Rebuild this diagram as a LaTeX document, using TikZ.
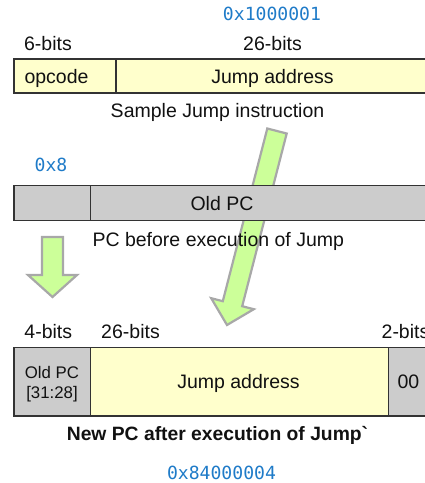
\documentclass[tikz,border=0pt]{standalone}
\usepackage{fontspec}
\setmainfont{Liberation Sans}
% plain family without TeX quote ligatures, so the grave accent stays as typed
\newfontfamily\rawsans{Liberation Sans}
\newfontfamily\hexfont{DejaVu Sans Mono}
\definecolor{cellyellow}{HTML}{FFFFCC}
\definecolor{cellgray}{HTML}{CCCCCC}
\definecolor{arrowgreen}{HTML}{CCFF99}
\definecolor{arrowedge}{HTML}{A8A8A8}
\definecolor{hexblue}{HTML}{1F7BC8}
\definecolor{frame}{HTML}{333333}
\definecolor{ink}{HTML}{111111}
\begin{document}
\begin{tikzpicture}[x=1pt,y=-1pt,
  cell/.style={draw=frame,line width=1.3pt,rectangle,inner sep=0pt,outer sep=0pt},
  lbl/.style={anchor=base,inner sep=0pt,text=ink,font=\fontsize{19.5}{22}\selectfont},
  small/.style={anchor=base,inner sep=0pt,text=ink,font=\fontsize{16.8}{20}\selectfont},
  hex/.style={anchor=base,inner sep=0pt,text=hexblue,font=\hexfont\fontsize{18.1}{22}\selectfont},
  bigarrow/.style={fill=arrowgreen,draw=arrowedge,line width=2.2pt,line join=miter}]
\useasboundingbox (0,0) rectangle (425,483);
\clip (0,0) rectangle (425,483);

% jump target arrow, lying behind the PC register
\draw[bigarrow] (267.3,128.5) -- (286.7,133.5) -- (242.2,306.2) -- (253.8,309.2)
  -- (227,325) -- (211.2,298.2) -- (222.8,301.2) -- cycle;

% sample jump instruction
\node[hex] (hexjump) at (272,20) {0x1000001};
\node[lbl] (b6) at (48,50) {6-bits};
\node[lbl] (b26a) at (272.5,50) {26-bits};
\node[cell,fill=cellyellow,minimum width=102pt,minimum height=34pt] (opc) at (65,76) {};
\node[cell,fill=cellyellow,minimum width=312pt,minimum height=34pt] (jaddr) at (272,76) {};
\node[lbl] (opct) at (56.5,83) {opcode};
\node[lbl] (jaddrt) at (272.5,83) {Jump address};
\node[lbl] (cap1) at (217.5,117) {Sample Jump instruction};

% PC before the jump
\node[hex] (hexpc) at (51,171.5) {0x8};
\node[cell,fill=cellgray,minimum width=76.7pt,minimum height=35pt] (pchi) at (52.35,203.2) {};
\node[cell,fill=cellgray,minimum width=337.3pt,minimum height=35pt] (pcrest) at (259.35,203.2) {};
\node[lbl] (oldpct) at (222,210) {Old PC};
\node[lbl] (cap2) at (218.3,246) {PC before execution of Jump};

% upper bits carried down
\draw[bigarrow] (42,237) -- (63,237) -- (63,275) -- (77,275) -- (52.5,297)
  -- (28,275) -- (42,275) -- cycle;

% new PC
\node[lbl] (b4) at (48.3,338.3) {4-bits};
\node[lbl] (b26b) at (130.5,338.3) {26-bits};
\node[lbl] (b2) at (405.5,338.3) {2-bits};
\node[cell,fill=cellgray,minimum width=76.7pt,minimum height=68.3pt] (npchi) at (52.35,381.85) {};
\node[cell,fill=cellyellow,minimum width=297.6pt,minimum height=68.3pt] (npcj) at (239.5,381.85) {};
\node[cell,fill=cellgray,minimum width=40pt,minimum height=68.3pt] (npclo) at (408.3,381.85) {};
\node[small] (npchit1) at (52,378.3) {Old PC};
\node[small] (npchit2) at (52,398) {[31:28]};
\node[lbl] (npcjt) at (238.5,388.3) {Jump address};
\node[lbl] (npclot) at (408.5,388.3) {00};
\node[lbl,font=\rawsans\fontsize{19.3}{22}\selectfont\bfseries] (cap3) at (217.5,440) {New PC after execution of Jump`};
\node[hex] (hexnew) at (221.5,479.8) {0x84000004};
\end{tikzpicture}
\end{document}
